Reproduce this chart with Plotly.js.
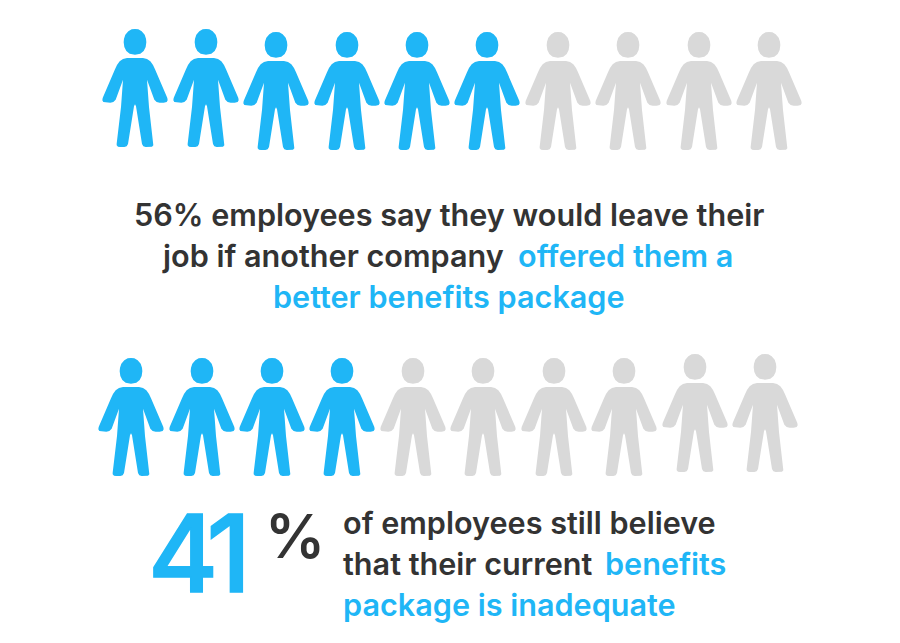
<!DOCTYPE html>
<html>
<head>
<meta charset="utf-8">
<script src="https://cdn.plot.ly/plotly-3.0.1.min.js"></script>
<style>html,body{margin:0;padding:0;background:#fff}#chart{width:900px;height:643px}
.annotation[data-index="8"] text{letter-spacing:-9px;stroke:#1FB6F6;stroke-width:1.6px}</style>
</head>
<body>
<div id="chart"></div>
<script>
// Data
const topRowX = [135, 206, 276, 347, 417, 487, 558, 628, 699, 769];
const topRowY = [29, 29, 32, 32, 32, 32, 32, 32, 32, 32];
const topRowFilled = 6;
const bottomRowX = [131, 202, 272, 342, 413, 483, 554, 624, 695, 765];
const bottomRowY = [358, 358, 358, 358, 358, 358, 358, 358, 354, 354];
const bottomRowFilled = 4;
const captionTexts = [
  "56% employees say they would leave their",
  "job if another company",
  "offered them a",
  "better benefits package",
  "of employees still believe",
  "that their current",
  "benefits",
  "package is inadequate"
];
const captionTones = ["dark", "dark", "blue", "blue", "dark", "dark", "blue", "blue"];
const captionX = [133.5, 161.5, 518, 272.5, 342.5, 342.5, 605, 342.5];
const captionY = [214, 255, 255, 296, 522, 563, 563, 604];
const bigNumber = "41";
const bigUnit = "%";

// Styles
const colors = {blue: "#1FB6F6", grey: "#D9D9D9", dark: "#333333"};
const textFont = "Inter, 'Noto Sans', sans-serif";

// Pictogram outline, half-figure, offsets from the head-top centre
const headHalf = [[0,0],[10,1],[20,7],[29,17],[33,29],[34,40],[32,54],[26,66],[16,74],[0,77]];
const bodyHalf = [[0,87],[24,87],[36,90],[46,97],[54,108],[60,121],[97,207],[98,214],[95,219],[86,221],[74,221],[65,219],[58,212],[36,152],[42,234],[55,344],[55,349],[51,353],[45,354],[32,354],[25,352],[21,345],[3,232],[0,226]];
const unit = 1/3;

function closedOutline(half) {
  const left = half.slice(1, -1).reverse().map(p => [-p[0], p[1]]);
  return half.concat(left);
}
const outlines = [closedOutline(headHalf), closedOutline(bodyHalf)];

function personTrace(cx, top, color, name) {
  const x = [], y = [];
  outlines.forEach((o, i) => {
    if (i) { x.push(null); y.push(null); }
    o.concat([o[0]]).forEach(p => { x.push(cx + p[0]*unit); y.push(top + p[1]*unit); });
  });
  return {
    type: "scatter", mode: "lines", x, y, name,
    fill: "toself", fillcolor: color,
    line: {color: color, width: 0, shape: "linear"},
    hoverinfo: "skip", showlegend: false
  };
}

const traces = [];
topRowX.forEach((cx, i) => traces.push(personTrace(cx, topRowY[i], i < topRowFilled ? colors.blue : colors.grey, "top " + i)));
bottomRowX.forEach((cx, i) => traces.push(personTrace(cx, bottomRowY[i], i < bottomRowFilled ? colors.blue : colors.grey, "bottom " + i)));

const annotations = captionTexts.map((text, i) => ({
  text, x: captionX[i], y: captionY[i], xref: "x", yref: "y", xanchor: "left", yanchor: "middle", showarrow: false,
  align: "left", borderpad: 0, borderwidth: 0,
  font: {family: textFont, size: 30.6, weight: 560, color: colors[captionTones[i]]}
}));
annotations.push({text: bigNumber, x: 136.5, y: 553, xref: "x", yref: "y", xanchor: "left", yanchor: "middle", showarrow: false,
  font: {family: textFont, size: 107, weight: 500, color: colors.blue}});
annotations.push({text: bigUnit, x: 295, y: 536, xref: "x", yref: "y", xanchor: "center", yanchor: "middle", showarrow: false,
  font: {family: textFont, size: 60, weight: 600, color: colors.dark}});

const layout = {
  width: 900, height: 643,
  margin: {l: 0, r: 0, t: 0, b: 0, pad: 0},
  paper_bgcolor: "#ffffff", plot_bgcolor: "#ffffff",
  xaxis: {range: [0, 900], visible: false, fixedrange: true},
  yaxis: {range: [643, 0], visible: false, fixedrange: true},
  showlegend: false, hovermode: false,
  annotations
};
Plotly.newPlot("chart", traces, layout, {displayModeBar: false, staticPlot: true});
</script>
</body>
</html>
